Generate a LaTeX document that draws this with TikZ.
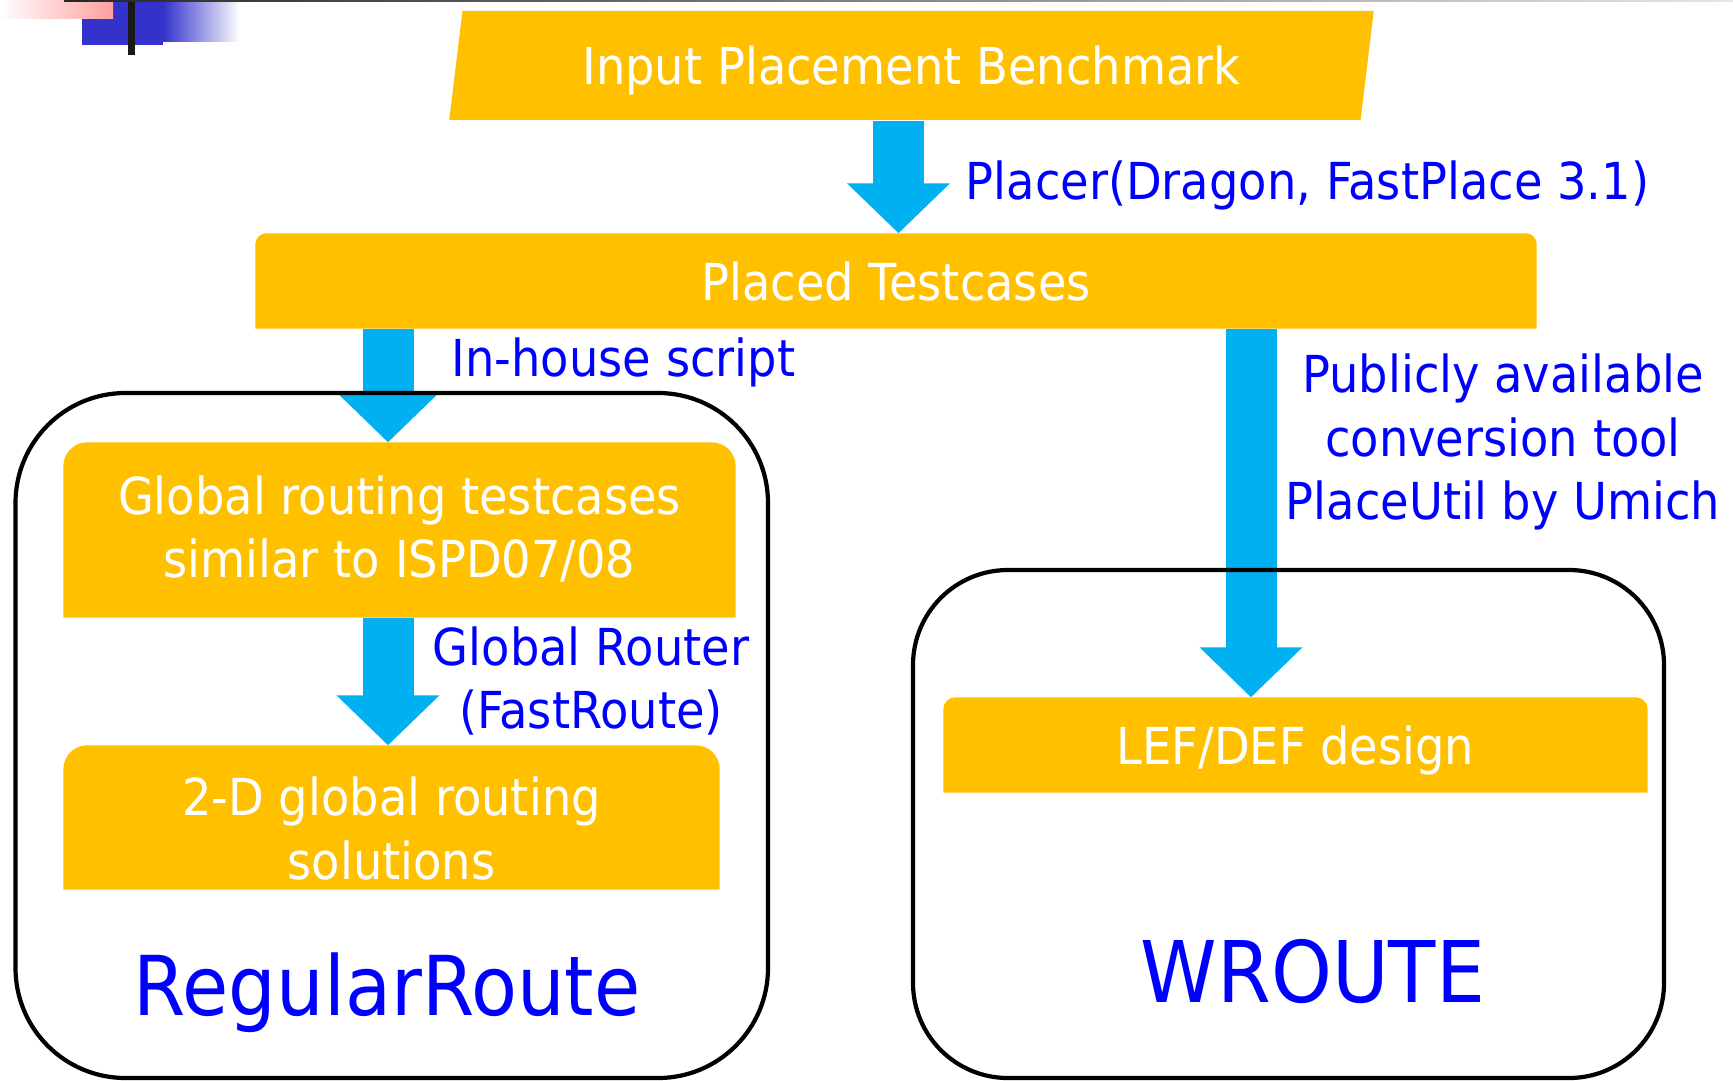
\documentclass[tikz,border=0pt]{standalone}
\usepackage{fontspec}
\setmainfont{DejaVu Sans}[FakeStretch=0.91]
\usepackage{tikz}
\usetikzlibrary{arrows.meta,shapes.geometric,backgrounds,positioning}

\definecolor{boxorange}{HTML}{FFC000}
\definecolor{flowcyan}{HTML}{00B0F0}
\definecolor{labelblue}{HTML}{0000FF}
\definecolor{decoblue}{HTML}{3333CC}
\definecolor{decopink}{HTML}{FFA0A0}
\newcommand{\boxtext}{\fontsize{14.5}{18.1}\selectfont}
\newcommand{\toolname}{\fontsize{23.5}{28}\selectfont}

\begin{document}
\begin{tikzpicture}[tcase/.style={text=white, font=\boxtext, align=center, inner sep=0pt, text depth=0pt},
                    note/.style={text=labelblue, font=\boxtext, align=center, inner sep=0pt},
                    flow/.style={draw=flowcyan, line width=0.51cm, -{Triangle[width=1.0cm,length=0.5cm]}},
                    group/.style={draw=black, line width=1.2pt, rounded corners=#1, inner sep=0pt}]
                        \useasboundingbox (0,0) rectangle (17.33,-10.80);
                        % slide corner
                        \fill[decoblue] (0.82,0) rectangle (1.63,-0.45);
                        \shade[left color=decoblue, right color=white] (1.63,0) rectangle (2.40,-0.42);
                        \shade[left color=white, right color=decopink] (0,0) rectangle (1.13,-0.19);
                        \fill[black!90] (1.28,0) rectangle (1.35,-0.55);
                        \shade[left color=black!85, right color=black!10] (0.64,0) rectangle (17.33,-0.02);
                        % boxes
                        \node[tcase, fill=boxorange, trapezium, trapezium left angle=76, trapezium right angle=104, trapezium stretches=true,
                              minimum width=9.27cm, minimum height=1.09cm] (inp) at (9.115,-0.655) {Input Placement Benchmark};
                        \node[tcase, minimum width=12.80cm, minimum height=0.94cm] (placed) at (8.96,-2.81) {Placed Testcases};
                        \node[tcase, minimum width=6.71cm, minimum height=1.74cm, text depth=2pt] (grt) at (3.995,-5.30) {Global routing testcases\\similar to ISPD07/08};
                        \node[tcase, minimum width=6.55cm, minimum height=1.43cm, text height=35pt] (gr2d) at (3.915,-8.175) {2-D global routing\\solutions};
                        \node[tcase, minimum width=7.03cm, minimum height=0.94cm] (lefdef) at (12.955,-7.45) {LEF/DEF design};
                        \begin{scope}[on background layer]
                        \foreach \b/\r in {placed/0.11,grt/0.24,gr2d/0.24,lefdef/0.12}
                            \fill[boxorange] (\b.west) [rounded corners=\r cm] -- (\b.north west) -- (\b.north east) -- (\b.east)
                                [sharp corners] -- (\b.south east) -- (\b.south west) -- cycle;
                        \end{scope}
                        % arrows
                        \coordinate (colM) at (8.985,0);
                        \coordinate (colL) at (3.88,0);
                        \coordinate (colR) at (12.51,0);
                        \draw[flow] (inp.south -| colM) -- (placed.north -| colM);
                        \draw[flow] (placed.south -| colL) -- (grt.north -| colL);
                        \draw[flow] (grt.south -| colL) -- (gr2d.north -| colL);
                        \draw[flow] (placed.south -| colR) -- (lefdef.north -| colR);
                        \node[note, anchor=west] (placer) at (9.65,-1.85) {Placer(Dragon, FastPlace 3.1)};
                        \node[note, anchor=west] (inhouse) at (4.51,-3.62) {In-house script};
                        \node[note] (convert) at (15.03,-4.42) {Publicly available\\conversion tool\\PlaceUtil by Umich};
                        \node[note] (router) at (5.91,-6.81) {Global Router\\(FastRoute)};
                        % tool frames
                        \node[group=1.1cm, minimum width=7.525cm, minimum height=6.85cm] (grpL) at (3.9175,-7.355) {};
                        \node[group=0.95cm, minimum width=7.51cm, minimum height=5.08cm] (grpR) at (12.885,-8.24) {};
                        \node[note, font=\toolname] (regular) at (3.87,-9.93) {RegularRoute};
                        \node[note, font=\fontsize{24.2}{29}\selectfont] (wroute) at (13.13,-9.72) {WROUTE};
                        \end{tikzpicture}
\end{document}
